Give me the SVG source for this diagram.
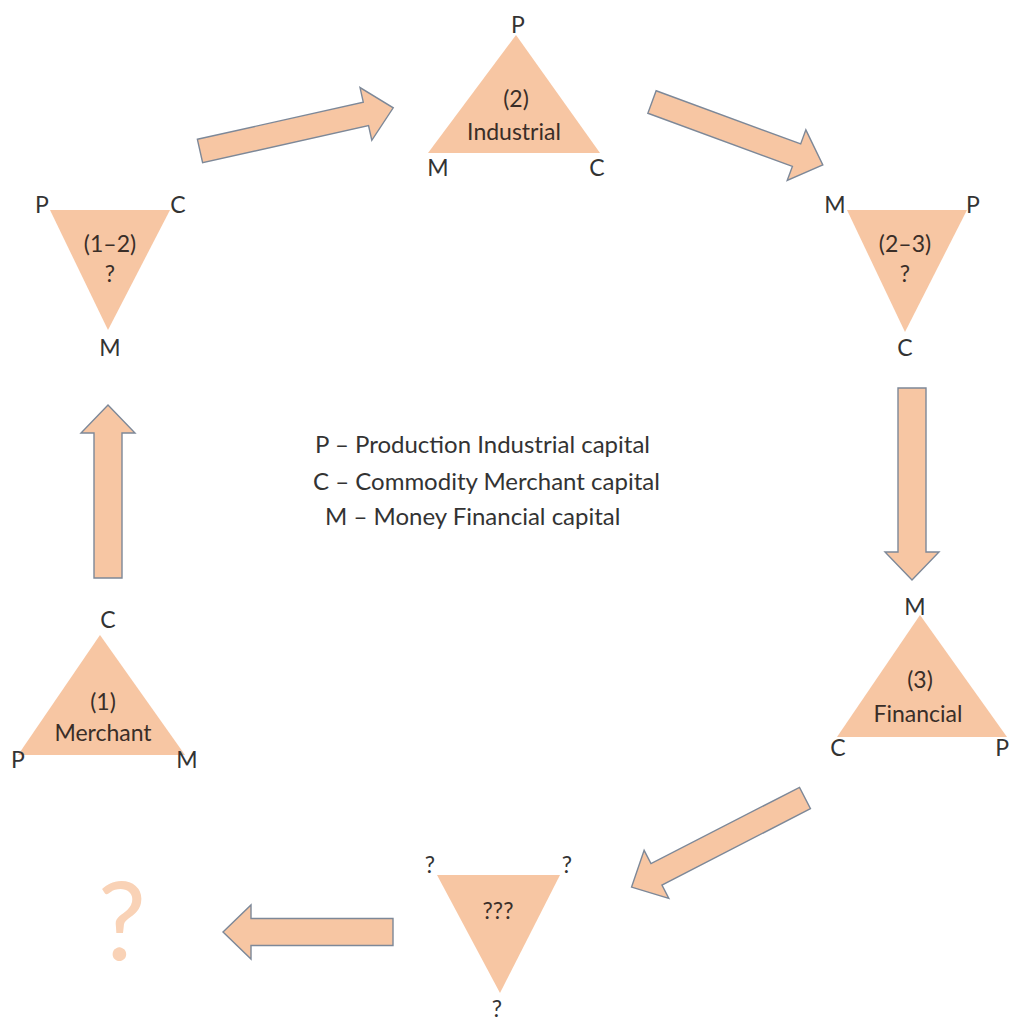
<svg xmlns="http://www.w3.org/2000/svg" width="1011" height="1021" viewBox="0 0 1011 1021">
<style>
.tri{fill:#F7C6A3;}
.arr{fill:#F7C6A3;stroke:#7D8898;stroke-width:1.4;stroke-linejoin:miter;}
text{font-family:Lato,"Open Sans","Liberation Sans",sans-serif;fill:#333333;font-size:23px;text-anchor:middle;}
.in{fill:#3a2e28;}
.leg{text-anchor:start;font-size:24px;}
.big{fill:#F9D2B6;font-size:108px;}
</style>
<rect width="1011" height="1021" fill="#ffffff"/>
<g id="connectors">
<path class="arr" transform="translate(108,578) rotate(-90)" d="M0,-14 H145 V-27 L173,0 L145,27 V14 H0 Z"/>
<path class="arr" transform="translate(200,151) rotate(-12.6)" d="M0,-12 H170 V-27 L198,0 L170,27 V12 H0 Z"/>
<path class="arr" transform="translate(652,102) rotate(20.2)" d="M0,-12 H154 V-27 L182,0 L154,27 V12 H0 Z"/>
<path class="arr" transform="translate(912,388) rotate(90)" d="M0,-14 H164 V-27 L192,0 L164,27 V14 H0 Z"/>
<path class="arr" transform="translate(805,798) rotate(152.8)" d="M0,-12 H167 V-27 L195,0 L167,27 V12 H0 Z"/>
<path class="arr" transform="translate(393,932) rotate(180)" d="M0,-13.5 H142 V-27 L170,0 L142,27 V13.5 H0 Z"/>
</g>
<g id="node-merchant">
<polygon class="tri" points="100,635 18,755 185,755"/>
<text x="108" y="628">C</text>
<text x="18" y="768">P</text>
<text x="187" y="768">M</text>
<text class="in" x="103" y="710">(1)</text>
<text class="in" x="103" y="741">Merchant</text>
</g>
<g id="node-1-2">
<polygon class="tri" points="50,210 170,210 108,330"/>
<text x="42" y="213">P</text>
<text x="178" y="213">C</text>
<text x="110" y="356">M</text>
<text class="in" x="110" y="252">(1–2)</text>
<text class="in" x="110" y="282">?</text>
</g>
<g id="node-industrial">
<polygon class="tri" points="516,35 428,153 600,153"/>
<text x="518" y="33">P</text>
<text x="438" y="176">M</text>
<text x="597" y="176">C</text>
<text class="in" x="516" y="107">(2)</text>
<text class="in" x="514" y="140">Industrial</text>
</g>
<g id="node-2-3">
<polygon class="tri" points="847,210 967,210 905,332"/>
<text x="835" y="213">M</text>
<text x="973" y="213">P</text>
<text x="905" y="356">C</text>
<text class="in" x="905" y="252">(2–3)</text>
<text class="in" x="905" y="282">?</text>
</g>
<g id="node-financial">
<polygon class="tri" points="920,615 837,737 1007,737"/>
<text x="915" y="615">M</text>
<text x="838" y="756">C</text>
<text x="1009" y="756" style="text-anchor:end">P</text>
<text class="in" x="920" y="688">(3)</text>
<text class="in" x="918" y="722">Financial</text>
</g>
<g id="node-unknown">
<polygon class="tri" points="437,875 560,875 500,993"/>
<text x="430" y="873">?</text>
<text x="567" y="873">?</text>
<text x="497" y="1017">?</text>
<text class="in" x="498" y="919">???</text>
</g>
<g id="node-final">
<text class="big" x="122" y="960">?</text>
</g>
<g id="legend">
<text class="leg" x="315" y="453">P – Production Industrial capital</text>
<text class="leg" x="313" y="490">C – Commodity Merchant capital</text>
<text class="leg" x="325" y="525">M – Money Financial capital</text>
</g>
</svg>
